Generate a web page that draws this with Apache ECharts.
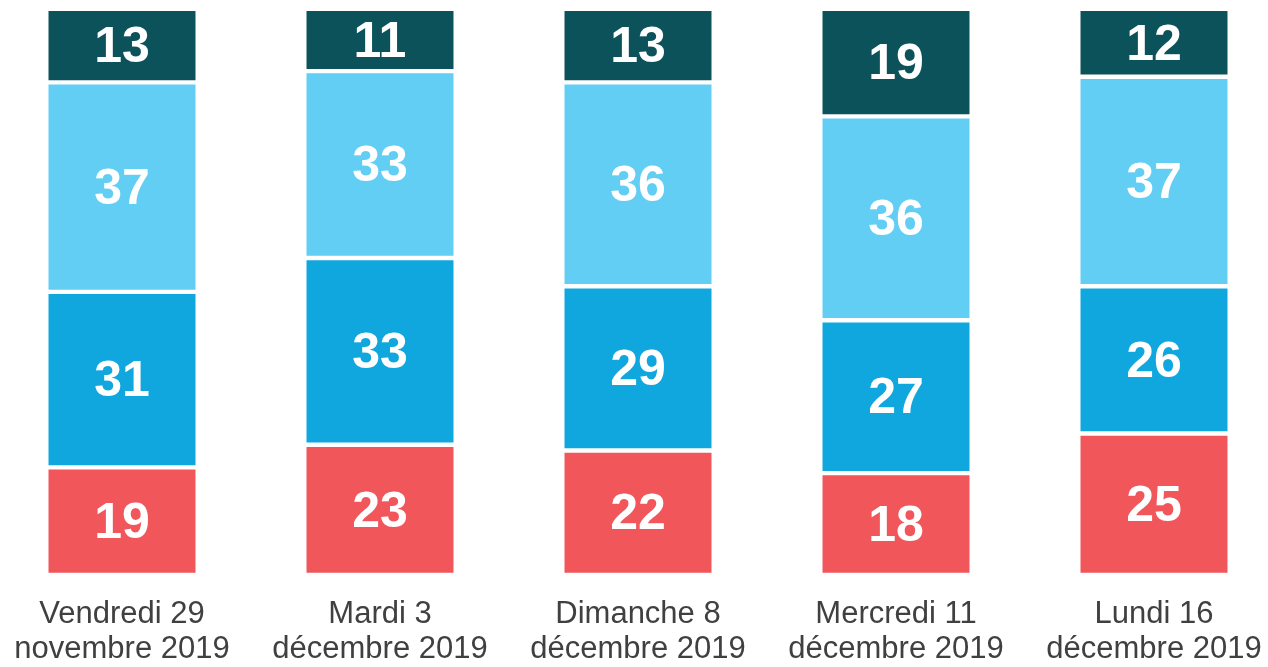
<!DOCTYPE html>
<html>
<head>
<meta charset="utf-8">
<script src="https://cdn.jsdelivr.net/npm/echarts@6/dist/echarts.min.js"></script>
<style>
  html, body { margin: 0; padding: 0; background: #fff; }
  #chart { width: 1268px; height: 667px; }
</style>
</head>
<body>
<div id="chart"></div>
<script>
// dates du sondage
const categories = [
  'Vendredi 29\nnovembre 2019',
  'Mardi 3\ndécembre 2019',
  'Dimanche 8\ndécembre 2019',
  'Mercredi 11\ndécembre 2019',
  'Lundi 16\ndécembre 2019'
];

// valeurs empilées, du bas vers le haut
const rouge = [19, 23, 22, 18, 25];
const bleu = [31, 33, 29, 27, 26];
const bleuClair = [37, 33, 36, 36, 37];
const sombre = [13, 11, 13, 19, 12];

const colors = ['#F0565A', '#10A6DE', '#63CEF4', '#0B525A'];

const makeSeries = (name, data, color) => ({
  name,
  type: 'bar',
  stack: 'total',
  data,
  barWidth: 151.4,
  itemStyle: {
    color,
    borderColor: '#fff',
    borderWidth: 2.2,
  },
  label: {
    show: true,
    position: 'inside',
    offset: [0, 3],
    color: '#fff',
    fontFamily: 'Liberation Sans, Arial, sans-serif',
    fontWeight: 'bold',
    fontSize: 50,
  },
});

const chart = echarts.init(document.getElementById('chart'));
chart.setOption({
  animation: false,
  grid: {
    left: 122,
    right: 114,
    top: 8.8,
    bottom: 82,
  },
  xAxis: {
    type: 'category',
    data: categories,
    boundaryGap: false,
    axisLine: { show: false },
    axisTick: { show: false },
    axisLabel: {
      margin: 22,
      color: '#404040',
      fontFamily: 'Liberation Sans, Arial, sans-serif',
      fontSize: 31,
      lineHeight: 35,
      interval: 0,
    },
  },
  yAxis: {
    type: 'value',
    min: 0,
    max: 100,
    show: false,
  },
  series: [
    makeSeries('a', rouge, colors[0]),
    makeSeries('b', bleu, colors[1]),
    makeSeries('c', bleuClair, colors[2]),
    makeSeries('d', sombre, colors[3]),
  ],
});
</script>
</body>
</html>
